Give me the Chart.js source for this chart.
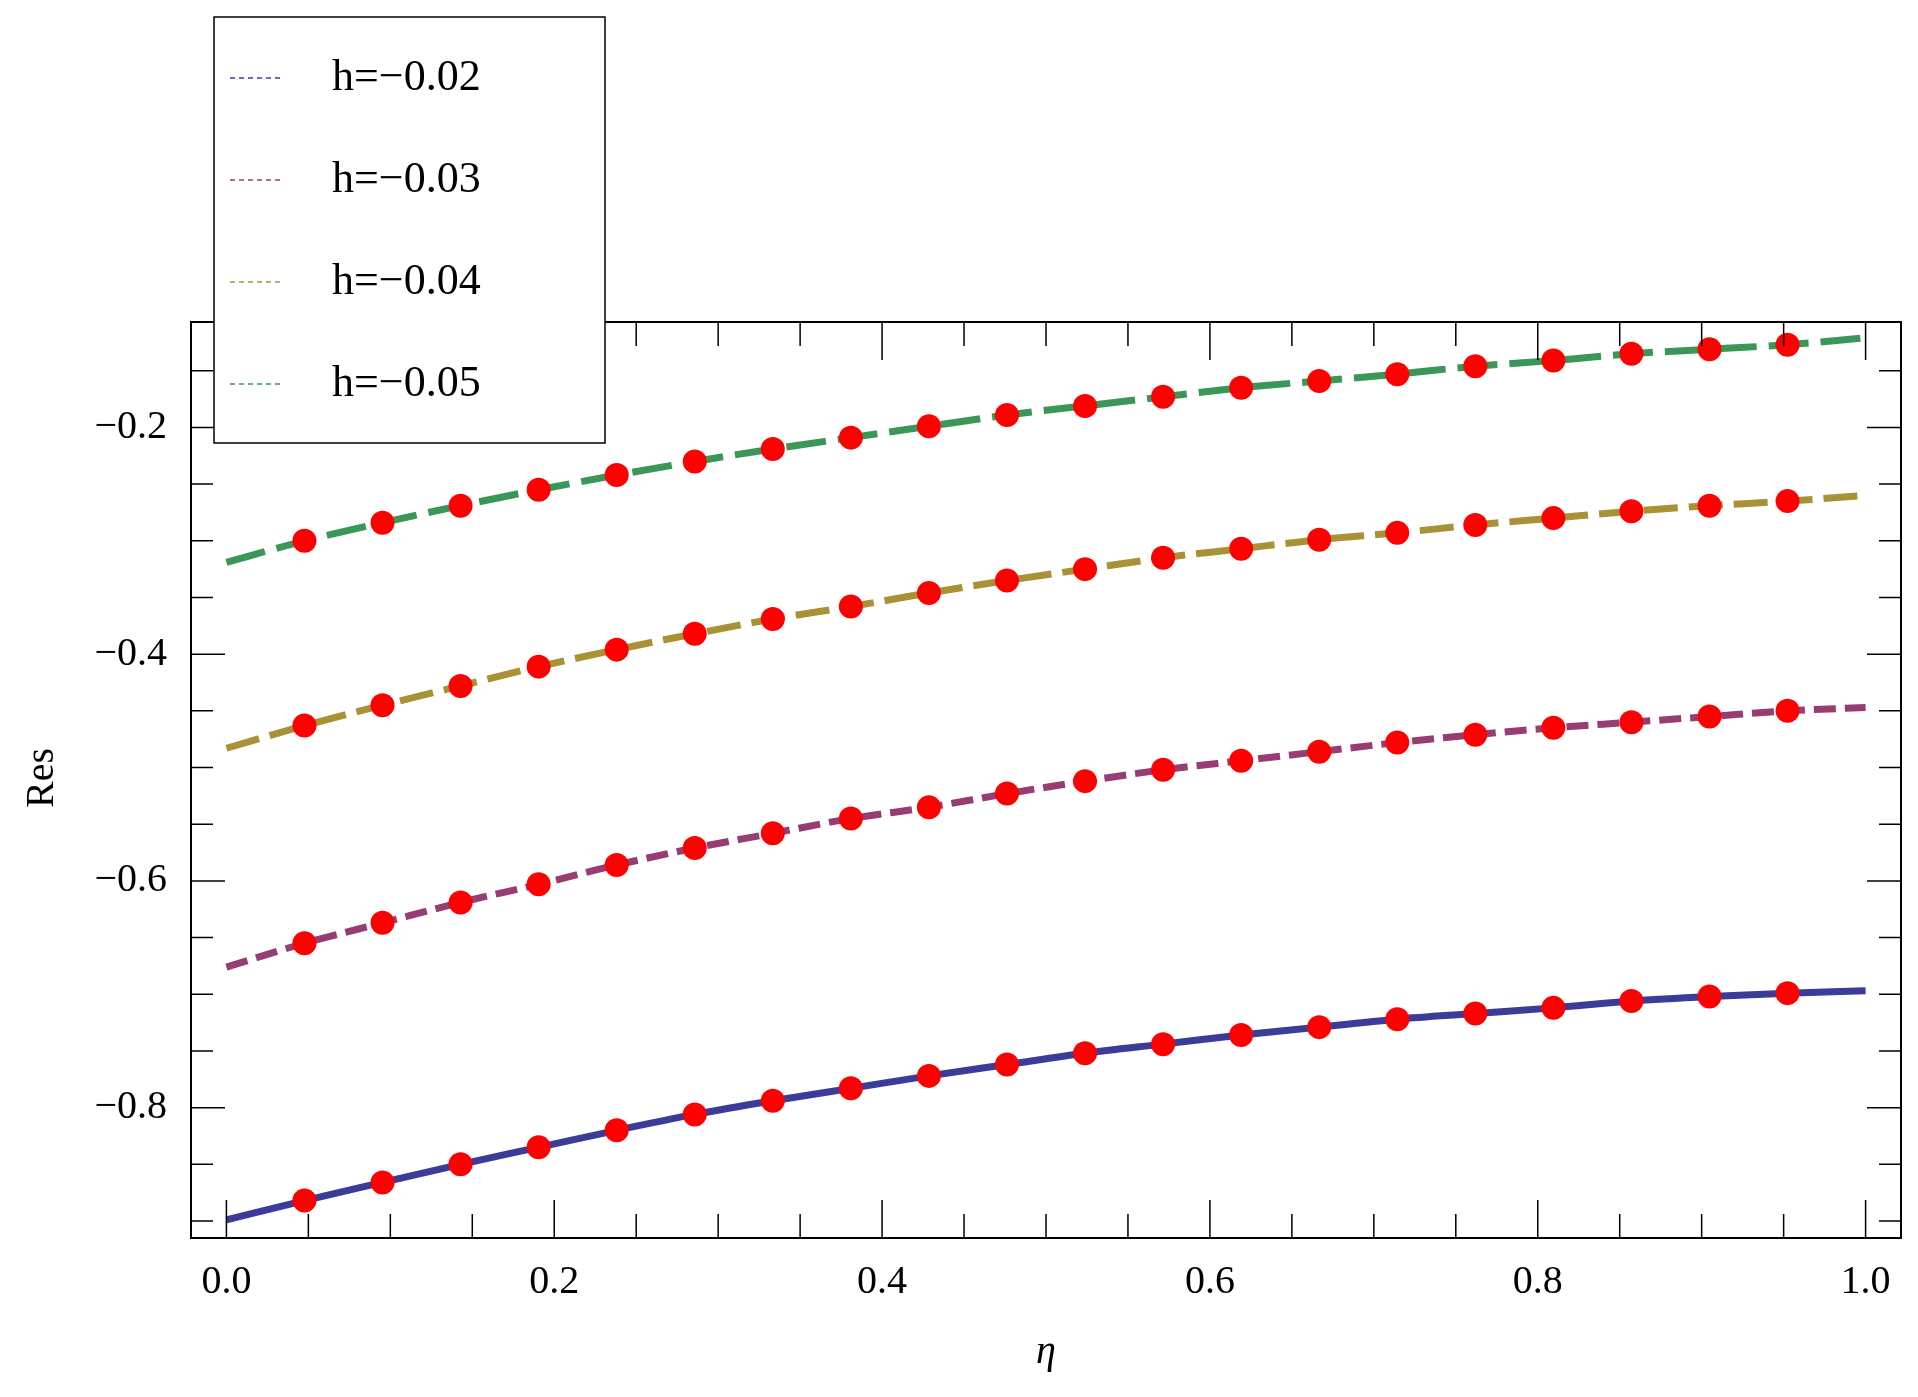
<!DOCTYPE html>
<html><head><meta charset="utf-8">
<script src="https://cdn.jsdelivr.net/npm/chart.js@4"></script>
<style>html,body{margin:0;padding:0;background:#fff}#w{width:1918px;height:1397px}</style>
</head><body><div id="w"><canvas id="c"></canvas></div>
<script>
const seriesLabels = ["h=\u22120.02","h=\u22120.03","h=\u22120.04","h=\u22120.05"];
const seriesColors = ["#3b3b9a","#973d74","#a99236","#3a9757"];
const etaDots = [1,2,3,4,5,6,7,8,9,10,11,12,13,14,15,16,17,18,19,20].map(k=>k/21);
const xTicks = [0,0.2,0.4,0.6,0.8,1.0];
const yTicks = [-0.8,-0.6,-0.4,-0.2];
const startVals = [-0.899,-0.676,-0.483,-0.319];
const endVals = [-0.697,-0.447,-0.260,-0.121];
const res002 = [-0.882,-0.866,-0.850,-0.835,-0.820,-0.806,-0.794,-0.783,-0.772,-0.762,-0.752,-0.744,-0.736,-0.729,-0.722,-0.717,-0.712,-0.706,-0.702,-0.699];
const res003 = [-0.655,-0.637,-0.619,-0.603,-0.586,-0.571,-0.558,-0.545,-0.535,-0.523,-0.512,-0.502,-0.494,-0.486,-0.478,-0.471,-0.465,-0.460,-0.455,-0.450];
const res004 = [-0.463,-0.445,-0.428,-0.411,-0.396,-0.382,-0.369,-0.358,-0.346,-0.335,-0.325,-0.315,-0.307,-0.299,-0.293,-0.286,-0.280,-0.274,-0.269,-0.265];
const res005 = [-0.300,-0.284,-0.269,-0.255,-0.242,-0.230,-0.219,-0.209,-0.199,-0.189,-0.181,-0.173,-0.165,-0.159,-0.153,-0.146,-0.141,-0.135,-0.131,-0.127];
const allRes = [res002,res003,res004,res005];
const dashes = [[],[22,9],[34,11],[40,12]];

const datasets = [];
allRes.forEach((r,i)=>{
  const pts=[{x:0,y:startVals[i]}].concat(r.map((v,j)=>({x:etaDots[j],y:v}))).concat([{x:1,y:endVals[i]}]);
  datasets.push({type:'line',label:seriesLabels[i],data:pts,borderColor:seriesColors[i],borderWidth:7,borderDash:dashes[i],pointRadius:0,cubicInterpolationMode:'monotone',order:2});
});
allRes.forEach((r,i)=>{
  datasets.push({type:'scatter',label:'dots'+i,data:r.map((v,j)=>({x:etaDots[j],y:v})),backgroundColor:'#ff0000',borderWidth:0,pointRadius:12,order:1});
});
const F='"Liberation Serif", serif';
const fmt=v=>(v<0?'\u2212':'')+Math.abs(v).toFixed(1);

const deco={id:'deco',afterDraw(ch){
  const c=ch.ctx,a=ch.chartArea,xs=ch.scales.x,ys=ch.scales.y;
  c.save();c.strokeStyle='#000';c.lineWidth=1.5;
  for(let k=0;k<=20;k++){const v=k*0.05;const p=xs.getPixelForValue(v);const L=(k%4===0)?38:24;
    c.beginPath();c.moveTo(p,a.bottom);c.lineTo(p,a.bottom-L);c.moveTo(p,a.top);c.lineTo(p,a.top+L);c.stroke();}
  for(let k=-18;k<=-3;k++){const v=k*0.05;const p=ys.getPixelForValue(v);const L=(k%4===0)?34:22;
    c.beginPath();c.moveTo(a.left,p);c.lineTo(a.left+L,p);c.moveTo(a.right,p);c.lineTo(a.right-L,p);c.stroke();}
  c.lineWidth=2;c.strokeRect(a.left,a.top,a.right-a.left,a.bottom-a.top);
  c.fillStyle='#000';c.font='italic 40px '+F;c.textAlign='center';c.textBaseline='middle';
  c.fillText('\u03b7',(a.left+a.right)/2,1352);
  c.save();c.translate(42,778);c.rotate(-Math.PI/2);c.font='40px '+F;c.fillText('Res',0,0);c.restore();
  const lx=214,ly=17,lw=391,lh=426;
  c.fillStyle='#fff';c.fillRect(lx,ly,lw,lh);c.lineWidth=1.5;c.strokeRect(lx,ly,lw,lh);
  seriesLabels.forEach((s,i)=>{const y=ly+61+i*102;
    c.strokeStyle=seriesColors[i];c.lineWidth=1.5;c.setLineDash([5,4]);
    c.beginPath();c.moveTo(lx+16,y);c.lineTo(lx+68,y);c.stroke();c.setLineDash([]);
    c.fillStyle='#000';c.font='44px '+F;c.textAlign='left';c.fillText(s,lx+118,y);});
  c.restore();
}};

new Chart(document.getElementById('c'),{
  data:{datasets},
  options:{responsive:true,maintainAspectRatio:false,animation:false,
    layout:{padding:{top:322,right:17,left:0,bottom:0}},
    plugins:{legend:{display:false},tooltip:{enabled:false}},
    scales:{
      x:{type:'linear',min:-0.0216,max:1.0216,grid:{display:false},border:{display:false},
        afterBuildTicks:s=>{s.ticks=xTicks.map(v=>({value:v}));},
        afterFit:s=>{s.height=159;},
        ticks:{font:{family:F,size:40},color:'#000',padding:12,maxRotation:0,callback:v=>v.toFixed(1)}},
      y:{type:'linear',min:-0.915,max:-0.107,grid:{display:false},border:{display:false},
        afterBuildTicks:s=>{s.ticks=yTicks.map(v=>({value:v}));},
        afterFit:s=>{s.width=191;},
        ticks:{font:{family:F,size:40},color:'#000',padding:16,callback:v=>fmt(v)}}
    }},
  plugins:[deco]
});
</script></body></html>
